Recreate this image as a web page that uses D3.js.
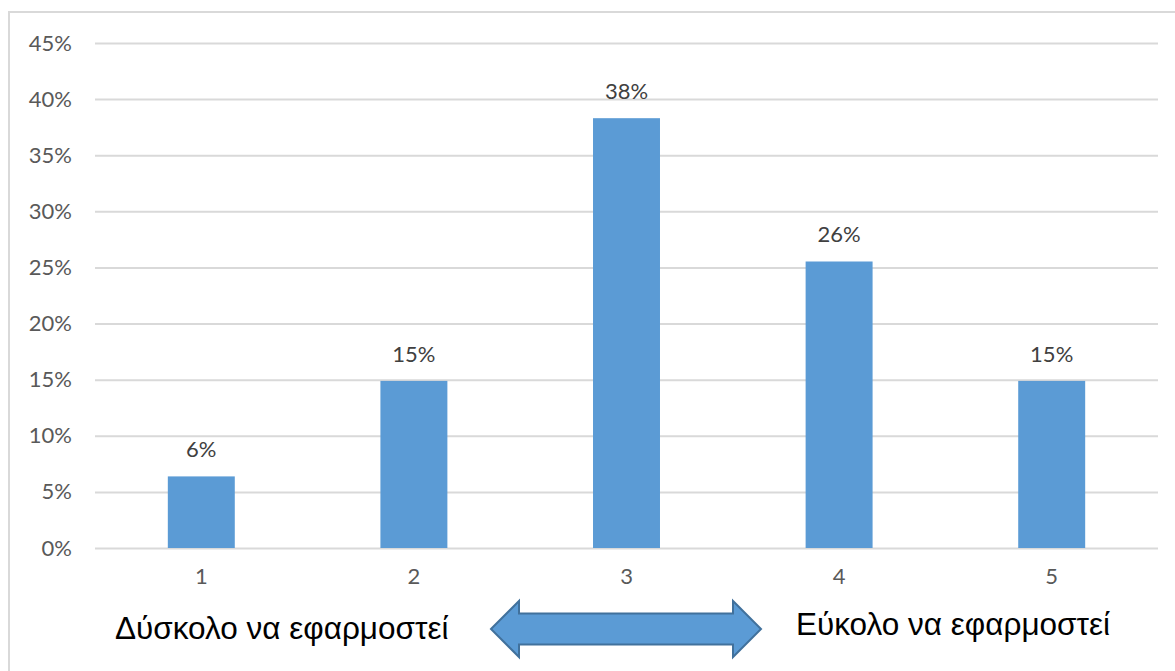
<!DOCTYPE html>
<html>
<head>
<meta charset="utf-8">
<script src="https://cdn.jsdelivr.net/npm/d3@7"></script>
<style>
  html, body { margin: 0; padding: 0; background: #fff; }
  svg { display: block; }
</style>
</head>
<body>
<svg id="chart" width="1175" height="671"></svg>
<script>
// Rating scale 1..5 and the share of answers for each rating (%)
const categories = ["1", "2", "3", "4", "5"];
const shares = [6.38, 14.89, 38.30, 25.53, 14.89];
const yTicks = [0, 5, 10, 15, 20, 25, 30, 35, 40, 45];
const leftCaption = "Δύσκολο να εφαρμοστεί";
const rightCaption = "Εύκολο να εφαρμοστεί";

const svg = d3.select("#chart");
const W = 1175, H = 671;
const plot = { left: 95, right: 1158, top: 43, bottom: 548 };

// chart frame
svg.append("rect")
  .attr("x", 9).attr("y", 12)
  .attr("width", W + 10).attr("height", H + 10)
  .attr("fill", "#fff")
  .attr("stroke", "#d9d9d9").attr("stroke-width", 2);

const x = d3.scaleBand()
  .domain(categories)
  .range([plot.left, plot.right])
  .paddingInner(0.685).paddingOuter(0.3425);

const y = d3.scaleLinear()
  .domain([0, 45])
  .range([plot.bottom, plot.top]);

const font = "Lato, 'Open Sans', 'Liberation Sans', sans-serif";
const labelSize = "22px";

// horizontal gridlines + y labels
const yAxis = d3.axisLeft(y)
  .tickValues(yTicks)
  .tickFormat(d => d + "%")
  .tickSize(-(plot.right - plot.left))
  .tickPadding(23);

const gy = svg.append("g")
  .attr("transform", `translate(${plot.left},0)`)
  .call(yAxis);
gy.select(".domain").remove();
gy.selectAll(".tick line").attr("stroke", "#d9d9d9").attr("stroke-width", 2);
gy.selectAll(".tick text")
  .attr("fill", "#595959")
  .style("font-family", font)
  .style("font-size", labelSize);

// bars
svg.append("g").selectAll("rect")
  .data(shares)
  .join("rect")
  .attr("x", (d, i) => x(categories[i]))
  .attr("width", x.bandwidth())
  .attr("y", d => y(d))
  .attr("height", d => y(0) - y(d))
  .attr("fill", "#5b9bd5");

// value labels
svg.append("g").selectAll("text")
  .data(shares)
  .join("text")
  .attr("x", (d, i) => x(categories[i]) + x.bandwidth() / 2)
  .attr("y", d => y(d) - 19)
  .attr("text-anchor", "middle")
  .attr("fill", "#404040")
  .style("font-family", font)
  .style("font-size", labelSize)
  .text(d => Math.round(d) + "%");

// category axis labels
const xAxis = d3.axisBottom(x).tickSize(0).tickPadding(20);
const gx = svg.append("g")
  .attr("transform", `translate(0,${plot.bottom})`)
  .call(xAxis);
gx.select(".domain").remove();
gx.selectAll(".tick text")
  .attr("fill", "#595959")
  .style("font-family", font)
  .style("font-size", labelSize);

// double-headed arrow between the two captions
const ax0 = 491, ax1 = 761, acy = 629;
const headLen = 28, headHalf = 28, shaftHalf = 15.5;
const arrowPts = [
  [ax0, acy],
  [ax0 + headLen, acy - headHalf],
  [ax0 + headLen, acy - shaftHalf],
  [ax1 - headLen, acy - shaftHalf],
  [ax1 - headLen, acy - headHalf],
  [ax1, acy],
  [ax1 - headLen, acy + headHalf],
  [ax1 - headLen, acy + shaftHalf],
  [ax0 + headLen, acy + shaftHalf],
  [ax0 + headLen, acy + headHalf]
];
svg.append("path")
  .attr("d", d3.line()(arrowPts) + "Z")
  .attr("fill", "#5b9bd5")
  .attr("stroke", "#41719c")
  .attr("stroke-width", 2)
  .attr("stroke-linejoin", "miter");

const capFont = "'Liberation Sans', Arial, sans-serif";
svg.append("text")
  .attr("x", 115).attr("y", 639)
  .attr("fill", "#000")
  .style("font-family", capFont)
  .style("font-size", "31.5px")
  .text(leftCaption);
svg.append("text")
  .attr("x", 796).attr("y", 635)
  .attr("fill", "#000")
  .style("font-family", capFont)
  .style("font-size", "31.5px")
  .text(rightCaption);
</script>
</body>
</html>
